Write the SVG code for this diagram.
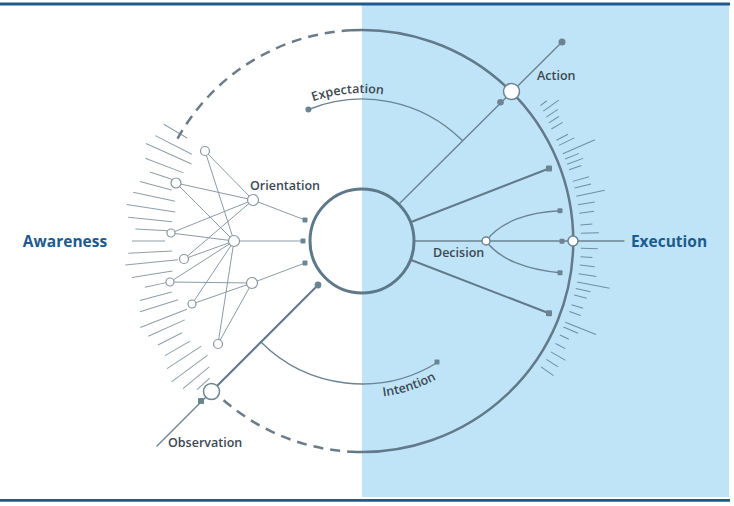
<svg xmlns="http://www.w3.org/2000/svg" width="734" height="506" viewBox="0 0 734 506">
<style>
.rule{stroke:#1f5a8e;stroke-width:2.8}
.ln{stroke:#6b8393;fill:none;stroke-width:1.4;stroke-linecap:round}
.lnb{stroke:#62798a;fill:none;stroke-width:2}
.arc{stroke:#62798a;fill:none;stroke-width:2.5}
.dash{stroke:#6b7c89;fill:none;stroke-width:2.5;stroke-dasharray:10 7}
.thin{stroke:#8a9ba7;fill:none;stroke-width:1}
.hl line{stroke:#8e9ea9;stroke-width:1}
.hr line{stroke:#6e8fa3;stroke-width:1}
.node{fill:#fff;stroke:#8796a1;stroke-width:1.2}
.bnode{fill:#fff;stroke:#6b8393;stroke-width:1.5}
.dot{fill:#6b8393}
.lbl{font-family:"Open Sans","Liberation Sans",sans-serif;font-size:12.5px;font-weight:600;fill:#3b4853}
.big{font-family:"Open Sans","Liberation Sans",sans-serif;font-size:15.5px;font-weight:700;fill:#1c5b90;text-anchor:middle}
</style>
<defs>
<path id="pExp" d="M 286.9 113.5 A 148 148 0 0 1 411.4 101.5"/>
<path id="pInt" d="M 342.9 396.8 A 157 157 0 0 0 469.1 355.8"/>
</defs>
<rect x="0" y="0" width="734" height="506" fill="#fff"/>
<rect x="362" y="5" width="367" height="492" fill="#bfe4f7"/>
<line class="rule" x1="0" y1="4" x2="730" y2="4"/>
<line class="rule" x1="0" y1="500.3" x2="730" y2="500.3"/>

<g id="hatch-left" class="hl" transform="translate(362 241)">
<line x1="203" x2="230" transform="rotate(210.5)"/>
<line x1="191" x2="232" transform="rotate(207)"/>
<line x1="187" x2="237" transform="rotate(204.3)"/>
<line x1="191" x2="232" transform="rotate(200.9)"/>
<line x1="200" x2="223" transform="rotate(198)"/>
<line x1="197" x2="230" transform="rotate(195)"/>
<line x1="191" x2="234" transform="rotate(192)"/>
<line x1="189" x2="238" transform="rotate(188.8)"/>
<line x1="191" x2="235" transform="rotate(185.8)"/>
<line x1="194" x2="227" transform="rotate(183)"/>
<line x1="197" x2="230" transform="rotate(180)"/>
<line x1="190" x2="234" transform="rotate(177)"/>
<line x1="185" x2="238" transform="rotate(174.2)"/>
<line x1="192" x2="233" transform="rotate(171)"/>
<line x1="199" x2="222" transform="rotate(168)"/>
<line x1="197" x2="230" transform="rotate(165)"/>
<line x1="193" x2="233" transform="rotate(162.3)"/>
<line x1="188" x2="238" transform="rotate(158.7)"/>
<line x1="194" x2="234" transform="rotate(156)"/>
<line x1="202" x2="229" transform="rotate(153)"/>
<line x1="199" x2="228" transform="rotate(149.8)"/>
<line x1="192" x2="233" transform="rotate(146.8)"/>
<line x1="192" x2="237" transform="rotate(143.5)"/>
<line x1="198" x2="232" transform="rotate(140.5)"/>
<line x1="205" x2="222" transform="rotate(138)"/>
</g>

<g id="hatch-right" class="hr" transform="translate(362 241)">
<line x1="224" x2="232" transform="rotate(-37.2)"/>
<line x1="223" x2="242" transform="rotate(-35.6)"/>
<line x1="222" x2="236" transform="rotate(-33.9)"/>
<line x1="221" x2="233" transform="rotate(-32.3)"/>
<line x1="220" x2="233" transform="rotate(-30.6)"/>
<line x1="219" x2="232" transform="rotate(-27.4)"/>
<line x1="219" x2="236" transform="rotate(-25.9)"/>
<line x1="219" x2="254" transform="rotate(-23.5)"/>
<line x1="219" x2="234" transform="rotate(-22)"/>
<line x1="219" x2="236" transform="rotate(-20.5)"/>
<line x1="219" x2="232" transform="rotate(-19)"/>
<line x1="219" x2="236" transform="rotate(-15.8)"/>
<line x1="219" x2="236" transform="rotate(-14)"/>
<line x1="219" x2="248" transform="rotate(-11.8)"/>
<line x1="219" x2="236" transform="rotate(-9.5)"/>
<line x1="219" x2="234" transform="rotate(-7.3)"/>
<line x1="219" x2="231" transform="rotate(-4.2)"/>
<line x1="219" x2="237" transform="rotate(-2)"/>
<line x1="219" x2="236" transform="rotate(1.9)"/>
<line x1="219" x2="231" transform="rotate(4.1)"/>
<line x1="219" x2="234" transform="rotate(6.3)"/>
<line x1="219" x2="237" transform="rotate(8.6)"/>
<line x1="219" x2="252" transform="rotate(10.8)"/>
<line x1="219" x2="234" transform="rotate(12.5)"/>
<line x1="219" x2="232" transform="rotate(14.3)"/>
<line x1="219" x2="231" transform="rotate(16.9)"/>
<line x1="219" x2="231" transform="rotate(18.8)"/>
<line x1="219" x2="252" transform="rotate(21.8)"/>
<line x1="219" x2="235" transform="rotate(23.1)"/>
<line x1="219" x2="229" transform="rotate(25.4)"/>
<line x1="219" x2="230" transform="rotate(27.9)"/>
<line x1="219" x2="236" transform="rotate(30.4)"/>
<line x1="219" x2="233" transform="rotate(32.7)"/>
<line x1="219" x2="234" transform="rotate(35.1)"/>
</g>

<g id="connectors">
<path class="arc" d="M 351 30.3 A 211 211 0 1 1 351 451.7"/>
<path class="dash" d="M 177.5 138.7 A 211 211 0 0 1 351 30.3"/>
<path class="dash" d="M 223.6 400.2 A 211 211 0 0 0 351 451.7"/>
<path class="ln" d="M 308.4 109.5 A 142 142 0 0 1 462.4 140.6"/>
<path class="ln" d="M 260.9 342.1 A 143 143 0 0 0 437.4 362.5"/>
<line class="lnb" x1="318" y1="285" x2="211.5" y2="391.5"/>
<line class="ln" x1="211.5" y1="391.5" x2="157" y2="446"/>
<line class="ln" x1="398.8" y1="204.2" x2="562" y2="42"/>
<line class="lnb" x1="410.5" y1="222.2" x2="549" y2="168.5"/>
<line class="lnb" x1="410.5" y1="259.7" x2="549" y2="313.3"/>
<line class="ln" x1="414" y1="241" x2="573" y2="241"/>
<line class="ln" x1="578" y1="241" x2="624" y2="241"/>
<path class="ln" d="M 486 241 C 500 222 528 212 560 210.7"/>
<path class="ln" d="M 486 241 C 500 260 528 270 560 272.7"/>
<g class="thin">
<line x1="205" y1="151" x2="253" y2="200"/>
<line x1="205" y1="151" x2="234" y2="241"/>
<line x1="176" y1="183" x2="253" y2="200"/>
<line x1="176" y1="183" x2="234" y2="241"/>
<line x1="171" y1="233" x2="253" y2="200"/>
<line x1="171" y1="233" x2="234" y2="241"/>
<line x1="184" y1="259" x2="253" y2="200"/>
<line x1="184" y1="259" x2="234" y2="241"/>
<line x1="170" y1="282" x2="234" y2="241"/>
<line x1="170" y1="282" x2="252" y2="283"/>
<line x1="192" y1="304" x2="234" y2="241"/>
<line x1="192" y1="304" x2="252" y2="283"/>
<line x1="218" y1="344" x2="234" y2="241"/>
<line x1="218" y1="344" x2="252" y2="283"/>
<line x1="253" y1="200" x2="305" y2="220"/>
<line x1="234" y1="241" x2="303" y2="241"/>
<line x1="252" y1="283" x2="305" y2="263"/>
</g>
</g>

<g id="core"><circle cx="362" cy="241" r="52" fill="none" stroke="#5d7888" stroke-width="3"/></g>

<g id="dots">
<rect class="dot" x="302.5" y="217.5" width="5" height="5" rx="1"/>
<rect class="dot" x="300.5" y="238.5" width="5" height="5" rx="1"/>
<rect class="dot" x="302.5" y="260.5" width="5" height="5" rx="1"/>
<circle class="dot" cx="318" cy="285" r="3.4"/>
<rect class="dot" x="198" y="398" width="6" height="6" rx="1"/>
<circle class="dot" cx="308.4" cy="109.5" r="3"/>
<rect class="dot" x="434.5" y="359.5" width="5" height="5" rx="1"/>
<circle class="dot" cx="500.5" cy="102.3" r="3.3"/>
<circle class="dot" cx="562" cy="42" r="3.5"/>
<rect class="dot" x="546" y="165.5" width="6" height="6" rx="1"/>
<rect class="dot" x="557.5" y="208.2" width="5" height="5" rx="1"/>
<rect class="dot" x="559.5" y="238.8" width="5" height="5" rx="1"/>
<rect class="dot" x="557.5" y="270.2" width="5" height="5" rx="1"/>
<rect class="dot" x="546" y="310.3" width="6" height="6" rx="1"/>
</g>

<g id="n-a"><circle class="node" cx="205" cy="151" r="4.5"/></g>
<g id="n-b"><circle class="node" cx="176" cy="183" r="5"/></g>
<g id="n-c"><circle class="node" cx="253" cy="200" r="5.5"/></g>
<g id="n-d"><circle class="node" cx="171" cy="233" r="4"/></g>
<g id="n-e"><circle class="node" cx="234" cy="241" r="5.5"/></g>
<g id="n-f"><circle class="node" cx="184" cy="259" r="4.5"/></g>
<g id="n-g"><circle class="node" cx="170" cy="282" r="4"/></g>
<g id="n-h"><circle class="node" cx="252" cy="283" r="5.5"/></g>
<g id="n-i"><circle class="node" cx="192" cy="304" r="4"/></g>
<g id="n-j"><circle class="node" cx="218" cy="344" r="4.5"/></g>

<g id="awareness"><text class="big" x="65" y="247">Awareness</text></g>
<g id="execution"><circle class="bnode" cx="573" cy="241" r="5"/><text class="big" x="669" y="247">Execution</text></g>
<g id="orientation"><text class="lbl" x="250" y="189.5">Orientation</text></g>
<g id="decision"><circle class="bnode" cx="486" cy="241" r="4"/><text class="lbl" x="433" y="257">Decision</text></g>
<g id="action"><circle class="bnode" cx="511.5" cy="91.5" r="8"/><text class="lbl" x="537" y="80">Action</text></g>
<g id="observation"><circle class="bnode" cx="211.5" cy="391.5" r="8"/><text class="lbl" x="168" y="447">Observation</text></g>
<g id="expectation"><text class="lbl"><textPath href="#pExp" startOffset="50%" text-anchor="middle">Expectation</textPath></text></g>
<g id="intention"><text class="lbl"><textPath href="#pInt" startOffset="50%" text-anchor="middle">Intention</textPath></text></g>
</svg>
